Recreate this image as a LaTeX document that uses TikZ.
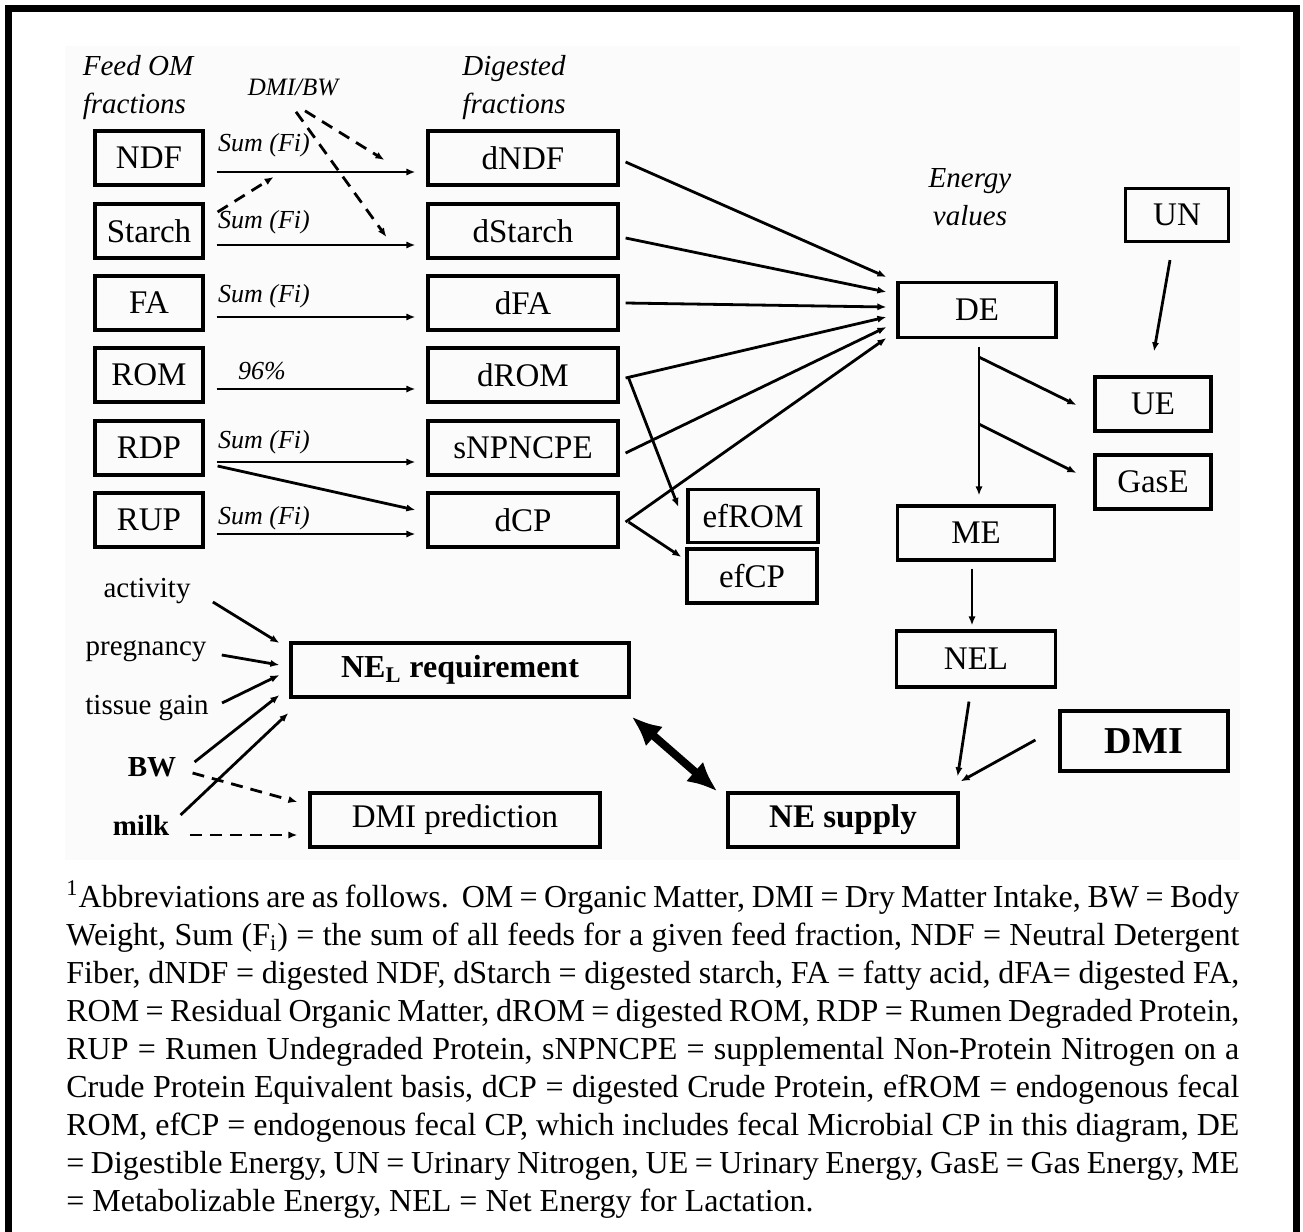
\documentclass[tikz,border=0pt]{standalone}
\usepackage{fontspec}
\setmainfont{Liberation Serif}
\usetikzlibrary{arrows.meta,calc}

\begin{document}
\begin{tikzpicture}[x=0.5pt, y=-0.5pt, >={Latex[length=4.5pt,width=3.6pt]},
		box/.style={draw, line width=1.6pt, minimum height=27pt, inner sep=0pt, font=\fontsize{16.5}{19}\selectfont},
		hdr/.style={inner sep=0pt, font=\fontsize{14.5}{19}\selectfont\itshape},
		side/.style={inner sep=0pt, font=\fontsize{14.5}{19}\selectfont},
		sumlab/.style={inner sep=0pt, font=\fontsize{13}{15}\selectfont\itshape},
		link/.style={->, line width=1.4pt},
		dlink/.style={link, dash pattern=on 6pt off 4pt}]
	\useasboundingbox (0,0) rectangle (1303,1232);
	\fill[black!1.5] (65,46) rectangle (1240,860);
	\draw[line width=3.5pt] (8.5,1232) |- (1296.5,8.5) -- (1296.5,1232);
	% headers
	\node[hdr, align=left] (feedhdr) at (138,88) {Feed OM\\fractions};
	\node[hdr, align=center] (dighdr) at (514,88) {Digested\\fractions};
	\node[hdr, align=center] (enhdr) at (970,197) {Energy\\values};
	\node[sumlab, font=\fontsize{12.5}{15}\selectfont\itshape] (dmibw) at (293,87) {DMI/BW};
	% fractions
	\foreach \n/\t/\y in {ndf/NDF/158, starch/Starch/231, fa/FA/303, rom/ROM/375, rdp/RDP/448, rup/RUP/520}
		\node[box, minimum width=54pt] (\n) at (149,\y) {\t};
	\foreach \n/\t/\y in {dndf/dNDF/158, dstarch/dStarch/231, dfa/dFA/303, drom/dROM/375, snpn/sNPNCPE/448, dcp/dCP/520}
		\node[box, minimum width=95pt] (\n) at (523,\y) {\t};
	\foreach \a/\b in {ndf/dndf, starch/dstarch, fa/dfa, rom/drom, rdp/snpn, rup/dcp}
		\draw[link] ($(\a.east)+(12,14)$) -- ($(\b.west)+(-11,14)$);
	\foreach \y [count=\i] in {145,222,296,442,518}
		\node[sumlab] (sum\i) at (264,\y) {Sum (Fi)};
	\node[sumlab] (pct) at (262,371) {96\%};
	\draw[link] ($(rdp.east)+(13,18)$) -- ($(dcp.west)+(-11,-10)$);
	\draw[dlink] ($(dmibw.south)+(12,15)$) -- ($(dndf.west)+(-42,2)$);
	\draw[dlink] ($(dmibw.south)+(3,16)$) -- ($(dstarch.west)+(-40,6)$);
	\draw[dlink] ($(starch.east)+(13,-19)$) -- ($(ndf.east)+(69,19)$);
	% energy
	\node[box, minimum width=79pt, minimum height=27.5pt] (de) at (977,310) {DE};
	\node[box, minimum width=78.5pt] (me) at (976,533) {ME};
	\node[box, minimum width=79.5pt, minimum height=28pt] (nel) at (976,659) {NEL};
	\node[box, minimum width=51.5pt, minimum height=26.5pt] (un) at (1177,215) {UN};
	\node[box, minimum width=58pt] (ue) at (1153,404) {UE};
	\node[box, minimum width=58pt] (gase) at (1153,482) {GasE};
	\node[box, minimum width=65pt, minimum height=26.5pt] (efrom) at (753,516) {efROM};
	\node[box, minimum width=65pt] (efcp) at (752,576) {efCP};
	\foreach \a/\dy/\ey in {dndf/4/-33, dstarch/7/-18, dfa/0/-3, drom/3/7, snpn/5/17, dcp/2/28}
		\draw[link] ($(\a.east)+(6,\dy)$) -- ($(de.west)+(-10,\ey)$);
	\draw[link] ($(drom.east)+(9,3)$) -- ($(efrom.west)+(-8,-9)$);
	\draw[link] ($(dcp.east)+(9,2)$) -- ($(efcp.west)+(-4,-19)$);
	\draw[link] ($(de.south)+(2,8)$) -- ($(me.north)+(3,-9)$);
	\draw[link] ($(de.south)+(2,18)$) -- ($(ue.west)+(-17,1)$);
	\draw[link] ($(de.south)+(2,85)$) -- ($(gase.west)+(-17,-9)$);
	\draw[link] ($(un.south)+(-7,17)$) -- ($(ue.north)+(1,-24)$);
	\draw[link] ($(me.south)+(-4,7)$) -- ($(nel.north)+(-4,-4)$);
	% requirement and supply
	\node[box, minimum width=169pt, font=\fontsize{16}{19}\selectfont\bfseries] (nereq) at (460,670) {NE\textsubscript{L} requirement};
	\node[box, minimum width=145pt] (dmipred) at (455,820) {DMI prediction};
	\node[box, minimum width=115pt, font=\fontsize{16.5}{19}\selectfont\bfseries] (nesup) at (843,820) {NE supply};
	\node[box, minimum width=84pt, minimum height=30pt, font=\fontsize{19}{22}\selectfont\bfseries] (dmi) at (1144,741) {DMI};
	\node[side] (act) at (147,591) {activity};
	\node[side] (preg) at (146,651) {pregnancy};
	\node[side] (tissue) at (147,708) {tissue gain};
	\node[side, font=\fontsize{14.5}{19}\selectfont\bfseries] (bw) at (152,767) {BW};
	\node[side, font=\fontsize{14.5}{19}\selectfont\bfseries] (milk) at (141,825) {milk};
	\foreach \s/\sx/\sy/\ey in {act/22/11/-27, preg/15/4/-5, tissue/13/-5/5, bw/18/-5/25}
		\draw[link] ($(\s.east)+(\sx,\sy)$) -- ($(nereq.west)+(-10,\ey)$);
	\draw[link] ($(milk.east)+(11,-10)$) -- ($(nereq.west)+(-1,43)$);
	\draw[dlink] ($(bw.east)+(16,6)$) -- ($(dmipred.west)+(-11,-18)$);
	\draw[dlink] ($(milk.east)+(20,10)$) -- ($(dmipred.west)+(-11,15)$);
	\draw[link] ($(nel.south)+(-7,13)$) -- ($(nesup.north east)+(-2,-15)$);
	\draw[link] ($(dmi.west)+(-23,-1)$) -- ($(nesup.north east)+(1,-10)$);
	\draw[{Latex[length=15pt,width=13pt]}-{Latex[length=15pt,width=13pt]}, line width=4pt]
		($(nereq.south east)+(1,18)$) -- ($(nesup.north west)+(-9,0)$);
	% footnote
	\node[anchor=north west, inner sep=0pt, text width=586.5pt, align=justify,
		font=\fontsize{16}{19}\selectfont] (note) at (66,880) {\noindent
		\textsuperscript{1}Abbreviations are as follows.\ \ OM = Organic Matter, DMI = Dry Matter Intake, BW = Body\linebreak
		Weight, Sum (F\textsubscript{i}) = the sum of all feeds for a given feed fraction, NDF = Neutral Detergent\linebreak
		Fiber, dNDF = digested NDF, dStarch = digested starch, FA = fatty acid, dFA= digested FA,\linebreak
		ROM = Residual Organic Matter, dROM = digested ROM, RDP = Rumen Degraded Protein,\linebreak
		RUP = Rumen Undegraded Protein, sNPNCPE = supplemental Non-Protein Nitrogen on a\linebreak
		Crude Protein Equivalent basis, dCP = digested Crude Protein, efROM = endogenous fecal\linebreak
		ROM, efCP = endogenous fecal CP, which includes fecal Microbial CP in this diagram, DE\linebreak
		= Digestible Energy, UN = Urinary Nitrogen, UE = Urinary Energy, GasE = Gas Energy, ME\linebreak
		= Metabolizable Energy, NEL = Net Energy for Lactation.};
\end{tikzpicture}
\end{document}
